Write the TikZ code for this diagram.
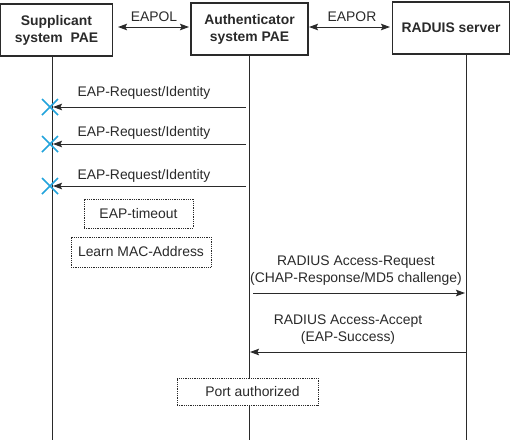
\documentclass[tikz,border=0pt]{standalone}
\usepackage{fontspec}
\setmainfont{Liberation Sans}
\usetikzlibrary{arrows.meta}
\definecolor{ink}{HTML}{2A2A2A}
\definecolor{xblue}{HTML}{22A3DC}
\begin{document}
\begin{tikzpicture}[x=1pt,y=-1pt,
  font=\fontsize{13.9}{17}\selectfont,
  every node/.style={text=ink},
  entity/.style={draw=ink,line width=1.1pt,minimum height=52pt,align=center,font=\fontsize{13.9}{17}\selectfont\bfseries},
  life/.style={draw=ink,line width=0.9pt},
  msg/.style={draw=ink,line width=0.9pt,-{Stealth[length=9pt,width=6.5pt,inset=1.5pt]}},
  biarrow/.style={draw=ink,line width=0.9pt,{Stealth[length=9pt,width=6.5pt,inset=1.5pt]}-{Stealth[length=9pt,width=6.5pt,inset=1.5pt]}},
  note/.style={draw=ink,densely dotted,line width=0.8pt,fill=white,inner sep=0pt},
  xmark/.style={draw=xblue,line width=1.6pt}]
\useasboundingbox (0,0) rectangle (511,440);
% entities
\node[entity,minimum width=112pt] (sup) at (56.5,30) {Supplicant\\system\ \ PAE};
\node[entity,minimum width=117pt] (aut) at (249.5,29) {Authenticator\\system PAE};
\node[entity,minimum width=117pt] (rad) at (451,28) {RADUIS server};
% lifelines
\coordinate (supb) at (52,440);
\coordinate (autb) at (249,440);
\coordinate (radb) at (466,440);
\draw[life] (sup.south -| supb) -- (supb);
\draw[life] (aut.south -| autb) -- (autb);
\draw[life] (rad.south -| radb) -- (radb);
% top arrows
\coordinate (e1) at (118,27); \coordinate (e2) at (189,27);
\coordinate (e3) at (309,27); \coordinate (e4) at (390,27);
\draw[biarrow] (e1) -- (e2);
\draw[biarrow] (e3) -- (e4);
\node (eapol) at (154,17) {EAPOL};
\node (eapor) at (352,17) {EAPOR};
% request identity messages
\foreach \i/\ya/\yl in {1/107/93,2/144/133,3/186/176}{
  \coordinate (a\i) at (246,\ya);
  \coordinate (s\i) at (53,\ya);
  \draw[msg] (a\i) -- (s\i);
  \node[anchor=west] (req\i) at (74,\yl) {EAP-Request/Identity};
  \coordinate (xa\i) at (42,\ya-8); \coordinate (xb\i) at (58,\ya+8);
  \coordinate (xc\i) at (42,\ya+8); \coordinate (xd\i) at (58,\ya-8);
  \draw[xmark] (xa\i) -- (xb\i);
  \draw[xmark] (xc\i) -- (xd\i);
}
% notes
\node[note,minimum width=109pt,minimum height=29pt] (tmo) at (138.5,213.5) {EAP-timeout};
\node[note,minimum width=140pt,minimum height=30pt] (mac) at (141,252) {Learn MAC-Address};
% radius exchange
\node[align=center] (areq) at (356,270.5) {RADIUS Access-Request\\(CHAP-Response/MD5 challenge)};
\coordinate (r1a) at (253,293); \coordinate (r1b) at (465,293);
\draw[msg] (r1a) -- (r1b);
\node[align=center] (aacc) at (348,330) {RADIUS Access-Accept\\(EAP-Success)};
\coordinate (r2a) at (466,352); \coordinate (r2b) at (250,352);
\draw[msg] (r2a) -- (r2b);
\node[note,minimum width=141pt,minimum height=27pt] (port) at (247.5,391.5) {\hspace*{10pt}Port authorized};
\end{tikzpicture}
\end{document}
